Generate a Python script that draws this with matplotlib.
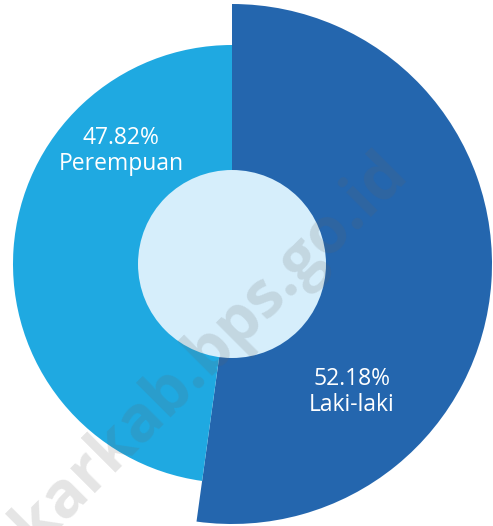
import numpy as np
import matplotlib
matplotlib.use("Agg")
import matplotlib.pyplot as plt
from matplotlib.patches import Circle
from matplotlib.font_manager import FontProperties

categories = ["Laki-laki", "Perempuan"]
values = [52.18, 47.82]
pct_labels = ["52.18%", "47.82%"]
watermark = "ukarkab.bps.go.id"

W, H = 493, 526
fig = plt.figure(figsize=(W / 100, H / 100), dpi=100)
ax = fig.add_axes([0, 0, 1, 1])

cx, cy = 232, H - 264
dark = "#2466ae"
light = "#1fa9e1"
inner = "#d6eefb"

ax.pie(values, radius=260, center=(cx, cy), startangle=90, counterclock=False,
       colors=[dark, "none"], wedgeprops=dict(linewidth=0))
ax.pie(values, radius=219, center=(cx, cy), startangle=90, counterclock=False,
       colors=["none", light], wedgeprops=dict(linewidth=0))
ax.add_patch(Circle((cx, cy), 94, color=inner, lw=0, zorder=3))

font = "Open Sans"
ax.text(352, H - 392, f"{pct_labels[0]}\n{categories[0]}", color="white", fontsize=16.5,
        family=font, ha="center", va="center", linespacing=1.1, zorder=4)
ax.text(121, H - 151, f"{pct_labels[1]}\n{categories[1]}", color="white", fontsize=16.5,
        family=font, ha="center", va="center", linespacing=1.1, zorder=4)

ax.set_xlim(0, W)
ax.set_ylim(0, H)
ax.set_aspect("equal")
ax.axis("off")

# watermark: anchor so the dot in "kab." sits at its place
wm_prop = FontProperties(family="Open Sans", weight="bold", size=46)
fig.canvas.draw()
rend = fig.canvas.get_renderer()
w_pre, _, _ = rend.get_text_width_height_descent("ukarkab", wm_prop, ismath=False)
w_dot, _, _ = rend.get_text_width_height_descent(".", wm_prop, ismath=False)
ang = np.deg2rad(45)
dist = w_pre + w_dot / 2
dot_x, dot_y = 202, H - 382
sx = dot_x - dist * np.cos(ang)
sy = dot_y - dist * np.sin(ang)
ax.text(sx, sy, watermark, rotation=45, color=(0.39, 0.39, 0.39, 0.17),
        fontproperties=wm_prop, ha="left", va="baseline",
        rotation_mode="anchor", zorder=5)

fig.savefig("out.png", dpi=100)
